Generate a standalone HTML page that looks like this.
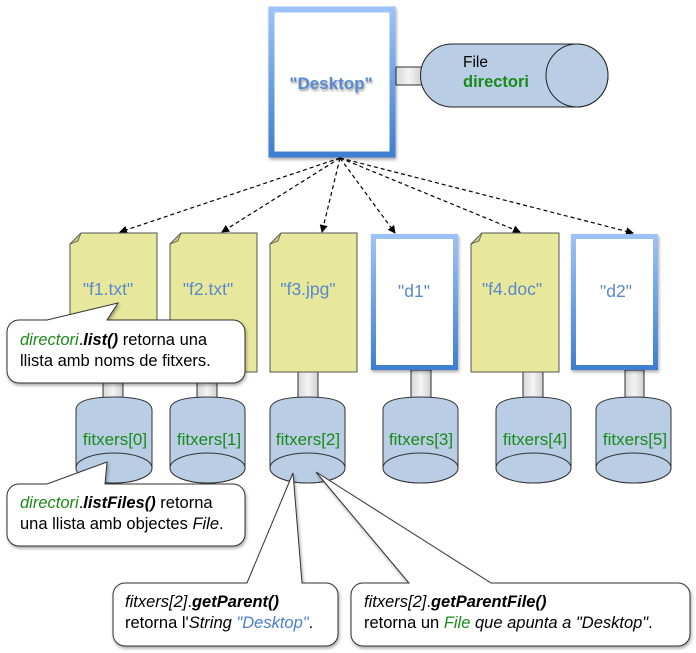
<!DOCTYPE html>
<html><head><meta charset="utf-8"><style>
html,body{margin:0;padding:0;background:#fff;}
svg{display:block;font-family:"Liberation Sans",sans-serif;}
</style></head><body>
<svg width="696" height="653" viewBox="0 0 696 653" xmlns="http://www.w3.org/2000/svg">
<defs>
<linearGradient id="bb" x1="0" y1="0" x2="0" y2="1"><stop offset="0" stop-color="#9cc2f7"/><stop offset="1" stop-color="#3f7fd0"/></linearGradient>
<linearGradient id="cg" x1="0" y1="0" x2="1" y2="0"><stop offset="0" stop-color="#d8d8d8"/><stop offset="0.5" stop-color="#f4f4f4"/><stop offset="1" stop-color="#d0d0d0"/></linearGradient>
<marker id="ah" markerWidth="8" markerHeight="8" refX="7" refY="4" orient="auto" markerUnits="userSpaceOnUse"><path d="M0,0 L8,4 L0,8z" fill="#000"/></marker>
<filter id="sh" x="-10%" y="-10%" width="130%" height="130%"><feDropShadow dx="1" dy="2" stdDeviation="1.5" flood-opacity="0.35"/></filter>
</defs>

<rect x="271.5" y="9.5" width="121" height="145" fill="#fff" stroke="url(#bb)" stroke-width="6" filter="url(#sh)"/>
<text x="331" y="89" text-anchor="middle" font-size="17" font-weight="bold" fill="#5a8ad0" style="text-shadow:1px 2px 2px rgba(0,0,0,0.4)">"Desktop"</text>

<rect x="396" y="67" width="26" height="18" fill="url(#cg)" stroke="#000" stroke-width="0.8"/>
<path d="M452,44 H577 A31,31.5 0 0 1 577,107 H452 A31.5,31.5 0 0 1 452,44z" fill="#b9cde4" stroke="#222" stroke-width="1"/>
<ellipse cx="577" cy="75.5" rx="31" ry="31.5" fill="#b9cde4" stroke="#222" stroke-width="1"/>
<text x="463" y="67" font-size="15.5" fill="#000">File</text>
<text x="463" y="87" font-size="16.5" font-weight="bold" fill="#1a8a1a">directori</text>

<g stroke="#000" stroke-width="1.2" stroke-dasharray="4,3" fill="none" marker-end="url(#ah)">
<line x1="340" y1="158" x2="120" y2="232"/>
<line x1="340" y1="158" x2="222" y2="232"/>
<line x1="340" y1="158" x2="322" y2="232"/>
<line x1="340" y1="158" x2="395" y2="233"/>
<line x1="340" y1="158" x2="520" y2="232"/>
<line x1="340" y1="158" x2="633" y2="233"/>
</g>

<g fill="url(#cg)" stroke="#000" stroke-width="0.8">
<rect x="103" y="372" width="20" height="27"/>
<rect x="197" y="372" width="20" height="27"/>
<rect x="298" y="372" width="20" height="27"/>
<rect x="411" y="370" width="20" height="29"/>
<rect x="523" y="372" width="20" height="27"/>
<rect x="625" y="370" width="19" height="29"/>
</g>

<g fill="#e8e89c" stroke="#555" stroke-width="1">
<path d="M81,233 H157 V372 H70 V244z"/>
<path d="M181,233 H257 V372 H170 V244z"/>
<path d="M281,233 H357 V372 H270 V244z"/>
<path d="M482,233 H559 V372 H471 V244z"/>
</g>
<g fill="#c9c980" stroke="#555" stroke-width="0.8">
<path d="M81,233 L70,244 L78,241z"/><path d="M181,233 L170,244 L178,241z"/>
<path d="M281,233 L270,244 L278,241z"/><path d="M482,233 L471,244 L479,241z"/>
</g>
<rect x="373.5" y="236.5" width="82" height="131" fill="#fff" stroke="url(#bb)" stroke-width="5" filter="url(#sh)"/>
<rect x="573.5" y="236.5" width="82" height="131" fill="#fff" stroke="url(#bb)" stroke-width="5" filter="url(#sh)"/>
<g font-size="17.5" fill="#5b88cc" text-anchor="middle">
<text x="108" y="295">"f1.txt"</text>
<text x="208" y="295">"f2.txt"</text>
<text x="308" y="295">"f3.jpg"</text>
<text x="414" y="297">"d1"</text>
<text x="512" y="295">"f4.doc"</text>
<text x="616" y="297">"d2"</text>
</g>

<g fill="#b9cde4" stroke="#333" stroke-width="1">
<path d="M76,410 Q76,397 114,397 Q152,397 152,410 V468 A38,15 0 0 1 76,468z"/>
<ellipse cx="114" cy="468" rx="38" ry="15"/>
<path d="M170,410 Q170,397 207.5,397 Q245,397 245,410 V468 A37.5,15 0 0 1 170,468z"/>
<ellipse cx="207.5" cy="468" rx="37.5" ry="15"/>
<path d="M270,410 Q270,397 307.5,397 Q345,397 345,410 V468 A37.5,15 0 0 1 270,468z"/>
<ellipse cx="307.5" cy="468" rx="37.5" ry="15"/>
<path d="M383,410 Q383,397 420.5,397 Q458,397 458,410 V468 A37.5,15 0 0 1 383,468z"/>
<ellipse cx="420.5" cy="468" rx="37.5" ry="15"/>
<path d="M496,410 Q496,397 533.5,397 Q571,397 571,410 V468 A37.5,15 0 0 1 496,468z"/>
<ellipse cx="533.5" cy="468" rx="37.5" ry="15"/>
<path d="M596,410 Q596,397 633.5,397 Q671,397 671,410 V468 A37.5,15 0 0 1 596,468z"/>
<ellipse cx="633.5" cy="468" rx="37.5" ry="15"/>
</g>
<g font-size="17" fill="#1a8a1a" text-anchor="middle">
<text x="115" y="445">fitxers[0]</text>
<text x="209" y="445">fitxers[1]</text>
<text x="308" y="445">fitxers[2]</text>
<text x="421" y="445">fitxers[3]</text>
<text x="535" y="445">fitxers[4]</text>
<text x="635" y="445">fitxers[5]</text>
</g>

<g fill="#fff" stroke="#333" stroke-width="1" filter="url(#sh)">
<path d="M19,320 H47 L118,303 L107,320 H233 A12,12 0 0 1 245,332 V371 A12,12 0 0 1 233,383 H19 A12,12 0 0 1 7,371 V332 A12,12 0 0 1 19,320z"/>
<path d="M19,484 H47 L107,462 L105,484 H233 A12,12 0 0 1 245,496 V534 A12,12 0 0 1 233,546 H19 A12,12 0 0 1 7,534 V496 A12,12 0 0 1 19,484z"/>
<path d="M125,583 H247 L293,473 L302,583 H326 A12,12 0 0 1 338,595 V634 A12,12 0 0 1 326,646 H125 A12,12 0 0 1 113,634 V595 A12,12 0 0 1 125,583z"/>
<path d="M363,583 H409 L316,472 L491,583 H678 A12,12 0 0 1 690,595 V634 A12,12 0 0 1 678,646 H363 A12,12 0 0 1 351,634 V595 A12,12 0 0 1 363,583z"/>
</g>
<g font-size="16.5" fill="#000">
<text x="20" y="345"><tspan font-style="italic" fill="#1a8a1a">directori</tspan>.<tspan font-weight="bold" font-style="italic">list()</tspan> retorna una</text>
<text x="20" y="366">llista amb noms de fitxers.</text>
<text x="20" y="508"><tspan font-style="italic" fill="#1a8a1a">directori</tspan>.<tspan font-weight="bold" font-style="italic">listFiles()</tspan> retorna</text>
<text x="20" y="529">una llista amb objectes <tspan font-style="italic">File</tspan>.</text>
<text x="125" y="607"><tspan font-style="italic">fitxers[2]</tspan>.<tspan font-weight="bold" font-style="italic">getParent()</tspan></text>
<text x="125" y="628">retorna l'<tspan font-style="italic">String</tspan> <tspan font-style="italic" fill="#4a7fd0">"Desktop"</tspan>.</text>
<text x="364" y="607"><tspan font-style="italic">fitxers[2]</tspan>.<tspan font-weight="bold" font-style="italic">getParentFile()</tspan></text>
<text x="364" y="628">retorna un <tspan font-style="italic" fill="#1a8a1a">File</tspan> <tspan font-style="italic">que apunta a "Desktop"</tspan>.</text>
</g>
</svg>
</body></html>
